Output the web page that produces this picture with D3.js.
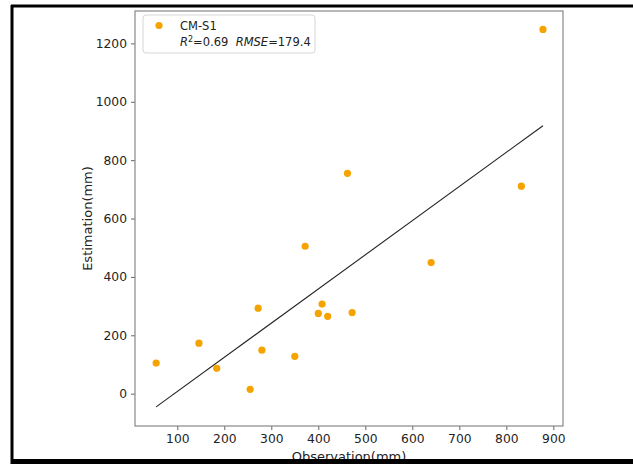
<!DOCTYPE html>
<html>
<head>
<meta charset="utf-8">
<script src="https://cdn.jsdelivr.net/npm/d3@7"></script>
<style>
  body { margin: 0; background: #fff; }
  svg { display: block; }
  text { font-family: "DejaVu Sans", sans-serif; fill: #222; }
</style>
</head>
<body>
<script>
const observed  = [55, 146, 184, 255, 272, 280, 350, 372, 400, 408, 420, 472, 462, 640, 832, 878];
const estimated = [105, 173, 87, 15, 293, 149, 128, 505, 275, 307, 265, 278, 755, 449, 711, 1248];
// fitted line end points
const fitX = [55, 878];
const fitY = [-45, 918];
const xTicks = [100, 200, 300, 400, 500, 600, 700, 800, 900];
const yTicks = [0, 200, 400, 600, 800, 1000, 1200];
const seriesName = "CM-S1";
const r2 = "0.69", rmse = "179.4";

const width = 633, height = 464;
const plot = {left: 135, right: 563, top: 11, bottom: 426};

const svg = d3.select("body").append("svg")
  .attr("width", width).attr("height", height);

// outer frame of the picture (left, top, bottom only)
svg.append("line").attr("x1", 12).attr("x2", 12).attr("y1", 5).attr("y2", 464)
  .attr("stroke", "#000").attr("stroke-width", 3);
svg.append("line").attr("x1", 11).attr("x2", 633).attr("y1", 6).attr("y2", 6)
  .attr("stroke", "#000").attr("stroke-width", 3);

let x = d3.scaleLinear().domain([10, 920.6]).range([plot.left, plot.right]);
let y = d3.scaleLinear().domain([-110.7, 1311]).range([plot.bottom, plot.top]);

// axes
let xAxis = svg.append("g")
  .attr("transform", "translate(0," + plot.bottom + ")")
  .call(d3.axisBottom(x).tickValues(xTicks).tickFormat(d3.format("d")).tickSize(4).tickPadding(4));
let yAxis = svg.append("g")
  .attr("transform", "translate(" + plot.left + ",0)")
  .call(d3.axisLeft(y).tickValues(yTicks).tickFormat(d3.format("d")).tickSize(4).tickPadding(4));

[xAxis, yAxis].forEach(function(a) {
  a.select(".domain").remove();
  a.selectAll(".tick line").attr("stroke", "#666");
  a.selectAll(".tick text").style("font-size", "12.3px").attr("fill", "#222")
    .style("font-family", "DejaVu Sans, sans-serif");
});

// spines
svg.append("rect")
  .attr("x", plot.left).attr("y", plot.top)
  .attr("width", plot.right - plot.left).attr("height", plot.bottom - plot.top)
  .attr("fill", "none").attr("stroke", "#888").attr("stroke-width", 1.2);

// axis labels
svg.append("text")
  .attr("x", (plot.left + plot.right) / 2).attr("y", 461)
  .attr("text-anchor", "middle").style("font-size", "13px")
  .text("Observation(mm)");
svg.append("text")
  .attr("transform", "translate(92," + (plot.top + plot.bottom) / 2 + ") rotate(-90)")
  .attr("text-anchor", "middle").style("font-size", "13px")
  .text("Estimation(mm)");

// fit line
svg.append("line")
  .attr("x1", x(fitX[0])).attr("y1", y(fitY[0]))
  .attr("x2", x(fitX[1])).attr("y2", y(fitY[1]))
  .attr("stroke", "#222").attr("stroke-width", 1.1);

// points
svg.selectAll("circle.pt")
  .data(observed.map(function(d, i) { return {o: d, e: estimated[i]}; }))
  .enter().append("circle")
  .attr("class", "pt")
  .attr("cx", function(d) { return x(d.o); })
  .attr("cy", function(d) { return y(d.e); })
  .attr("r", 3.6)
  .attr("fill", "#f5a300");

// legend
let legend = svg.append("g");
legend.append("rect")
  .attr("x", 143).attr("y", 15).attr("width", 172).attr("height", 38)
  .attr("rx", 3).attr("fill", "#fff").attr("fill-opacity", 0.8)
  .attr("stroke", "#d6d6d6").attr("stroke-width", 1);
legend.append("circle").attr("cx", 159).attr("cy", 25.5).attr("r", 3.6).attr("fill", "#f5a300");
legend.append("text").attr("x", 180).attr("y", 30).style("font-size", "11.5px").text(seriesName);

let stats = legend.append("text").attr("x", 180).attr("y", 46).style("font-size", "11.5px");
stats.append("tspan").style("font-style", "italic").text("R");
stats.append("tspan").attr("dy", -4.5).style("font-size", "8px").text("2");
stats.append("tspan").attr("dy", 4.5).text("=" + r2 + "  ");
stats.append("tspan").style("font-style", "italic").text("RMSE");
stats.append("tspan").text("=" + rmse);
stats.attr("xml:space", "preserve");

// bottom frame bar drawn last, it covers the lower part of the x label
svg.append("rect").attr("x", 11).attr("y", 459).attr("width", 622).attr("height", 5).attr("fill", "#000");
</script>
</body>
</html>
